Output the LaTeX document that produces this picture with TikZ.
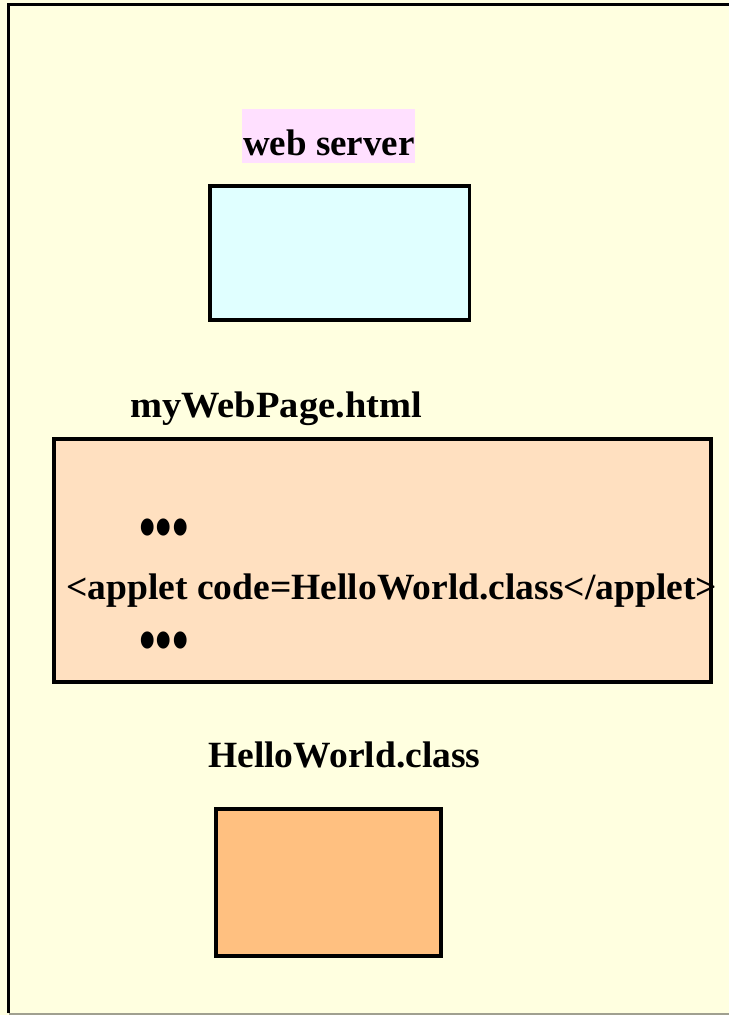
\documentclass[tikz,border=0pt]{standalone}
\usepackage{fontspec}
\setmainfont{Liberation Serif}
\definecolor{bgyellow}{HTML}{FFFFE0}
\definecolor{cyanfill}{HTML}{E0FFFF}
\definecolor{peachfill}{HTML}{FFE0C0}
\definecolor{orangefill}{HTML}{FFC080}
\definecolor{pinkfill}{HTML}{FFE0FF}
\definecolor{bottomgray}{HTML}{A0A090}
\begin{document}
\begin{tikzpicture}[x=1pt,y=-1pt,
  box/.style={draw=black, line width=3.5pt, inner sep=0pt},
  lbl/.style={font=\bfseries\fontsize{37}{40}\selectfont, inner sep=0pt, anchor=base west},
  dotrow/.style={font=\bfseries\fontsize{47}{47}\selectfont, inner sep=0pt, anchor=base west}]
\fill[bgyellow] (0,0) rectangle (729,1015);
\useasboundingbox (0,0) rectangle (729,1015);
\draw[line width=3pt] (8.5,1013) -- (8.5,4.5) -- (729,4.5);
\draw[bottomgray, line width=1.5pt] (8.5,1014.2) -- (729,1014.2);
% web server
\node[fill=pinkfill, minimum width=173pt, minimum height=54pt, inner sep=0pt] (wsbg) at (328.5,136) {};
\node[lbl] (wslabel) at (243,155) {web server};
\node[box, fill=cyanfill, minimum width=259.5pt, minimum height=134pt] (server) at (339.75,253) {};
% web page
\node[lbl] (pagelabel) at (130,417) {\scalebox{1.04}[1]{myWebPage.html}};
\node[box, fill=peachfill, minimum width=657pt, minimum height=243pt] (page) at (382.5,560.5) {};
\node[dotrow] (dots1) at (139,548) {\scalebox{1}[1.35]{•••}};
\node[lbl] (applet) at (66,599) {\scalebox{1.015}[1]{<applet code=HelloWorld.class</applet>}};
\node[dotrow] (dots2) at (139,661) {\scalebox{1}[1.35]{•••}};
% class file
\node[lbl] (classlabel) at (208,767) {\scalebox{1.015}[1]{HelloWorld.class}};
\node[box, fill=orangefill, minimum width=225pt, minimum height=147pt] (classfile) at (328.5,882.5) {};
\end{tikzpicture}
\end{document}
